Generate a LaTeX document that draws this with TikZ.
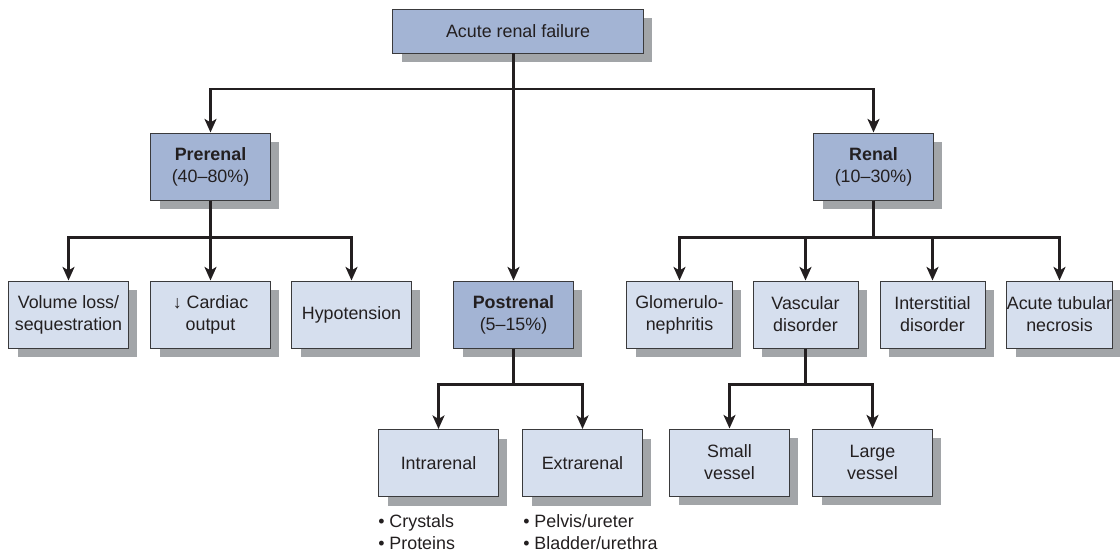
\documentclass[tikz,border=0pt]{standalone}
\usepackage{fontspec}
\setsansfont{Liberation Sans}
\usetikzlibrary{positioning, arrows.meta, shadows}
\definecolor{mDark}{HTML}{A3B4D4}
\definecolor{mLight}{HTML}{D6DFEE}
\definecolor{mShade}{HTML}{A2A5A8}
\definecolor{mLine}{HTML}{3A3A3C}
\definecolor{mText}{HTML}{231F20}

\begin{document}
\begin{tikzpicture}[
  x=0.025cm, y=-0.025cm,
  every node/.style={font=\sffamily\fontsize{12.7}{15.5}\selectfont, text=mText},
  box/.style={draw=mLine, line width=0.7pt, align=center, inner sep=0pt,
              minimum width=2.975cm, minimum height=1.675cm,
              drop shadow={shadow xshift=0.23cm, shadow yshift=-0.23cm,
              fill=mShade, opacity=1}},
  mainbox/.style={box, fill=mDark},
  subbox/.style={box, fill=mLight},
  narrow/.style={subbox, minimum width=2.625cm},
  wire/.style={line width=1.8pt, draw=mText, line join=miter},
  link/.style={wire, -{Stealth[length=3.4mm, width=3mm, inset=0.9mm]}},
]
  \useasboundingbox (0,0) rectangle (1120,552);

  % Top
  \node[mainbox, minimum width=6.25cm, minimum height=1.1cm] (arf) at (518,31)
    {Acute renal failure};

  % Main causes
  \node[mainbox] (pre) at (210.5,166.5) {\textbf{Prerenal}\\(40--80\%)};
  \node[mainbox] (ren) at (873.5,166.5) {\textbf{Renal}\\(10--30\%)};
  \node[mainbox] (post) at (513.5,314.5) {\textbf{Postrenal}\\(5--15\%)};

  % Prerenal
  \node[subbox] (vol) at (68.5,314.5) {Volume loss/\\sequestration};
  \node[subbox] (card) at (210.5,314.5) {↓ Cardiac\\output};
  \node[subbox] (hypo) at (351.5,314.5) {Hypotension};

  % Renal
  \node[narrow] (glom) at (679.5,314.5) {Glomerulo-\\nephritis};
  \node[narrow] (vasc) at (805.5,314.5) {Vascular\\disorder};
  \node[narrow] (inter) at (932.5,314.5) {Interstitial\\disorder};
  \node[narrow] (atn) at (1059.5,314.5) {Acute tubular\\necrosis};

  % Vascular
  \node[subbox] (small) at (729.5,462.5) {Small\\vessel};
  \node[subbox] (large) at (872.5,462.5) {Large\\vessel};

  % Postrenal
  \node[subbox] (intra) at (438.5,463) {Intrarenal};
  \node[subbox] (extra) at (582.5,463) {Extrarenal};
  \node[anchor=north west, inner sep=0pt, align=left] (intral) at (378,514)
    {• Crystals\\• Proteins};
  \node[anchor=north west, inner sep=0pt, align=left] (extral) at (523,514)
    {• Pelvis/ureter\\• Bladder/urethra};

  % Connectors
  \coordinate (hub) at (513.5,89);
  \draw[wire] (arf.south -| hub) -- (hub);
  \draw[link] (hub) -| (pre.north);
  \draw[link] (hub) -| (ren.north);
  \draw[link] (hub) -- (post.north);

  \foreach \kid in {vol, card, hypo}
    \draw[link] (pre.south) -- ++(0,37) -| (\kid.north);
  \foreach \kid in {glom, vasc, inter, atn}
    \draw[link] (ren.south) -- ++(0,37) -| (\kid.north);
  \foreach \kid in {small, large}
    \draw[link] (vasc.south) -- ++(0,36) -| (\kid.north);
  \foreach \kid in {intra, extra}
    \draw[link] (post.south) -- ++(0,36) -| (\kid.north);
\end{tikzpicture}
\end{document}
